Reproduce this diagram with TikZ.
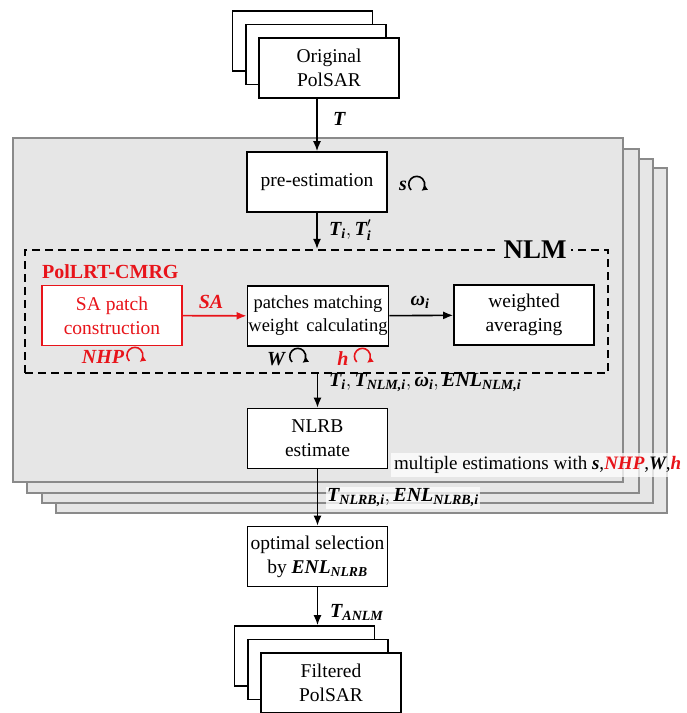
\RequirePackage{fix-cm}
\documentclass[tikz,border=0pt]{standalone}
\usepackage{fontspec}
\setmainfont{Liberation Serif}
\usepackage{amsmath}
\usetikzlibrary{arrows.meta,positioning,calc}

\definecolor{nred}{RGB}{232,20,26}
\definecolor{panelfill}{RGB}{230,230,230}
\definecolor{panelline}{RGB}{138,138,138}

% bold italic symbols
\newcommand\bi[1]{\text{\bfseries\itshape #1}}

\tikzset{
  procbox/.style={draw, line width=1.6pt, fill=white, minimum width=140pt, minimum height=60pt,
    align=center, inner sep=1pt, font=\fontsize{19.5}{24}\selectfont},
  redbox/.style={procbox, draw=nred, text=nred},
  flow/.style={line width=1.6pt, -{Latex[length=10pt,width=8pt]}},
  loopar/.style={line width=1.6pt, -{Latex[length=6pt,width=6pt]}},
  lbl/.style={font=\fontsize{20}{24}\selectfont, inner sep=1pt},
  panel/.style={draw=panelline, fill=panelfill, line width=2pt},
  nlmbox/.style={draw, dash pattern=on 8pt off 5pt, line width=2.2pt,
    minimum width=583pt, minimum height=123pt},
  veil/.style={fill=white, fill opacity=0.75, text opacity=1}
}

\begin{document}
\begin{tikzpicture}[x=1pt,y=-1pt]
\useasboundingbox (0,0) rectangle (687,713);

% stacked panels, back to front
\foreach \xa/\ya/\xb/\yb in {56/168/667/513, 42/159/653/503, 27/149/639/493, 13/138/623/482}
  \draw[panel] (\xa,\ya) rectangle (\xb,\yb);

% input images
\foreach \k in {2,1}
  \node[procbox] (orig\k) at ({329-13.3*\k},{68-13.5*\k}) {};
\node[procbox] (orig) at (329,68) {Original\\PolSAR};

\node[procbox] (pre) at (317,182) {pre-estimation};
\node[lbl] (sl) at (403,186) {$\bi{s}$};
\draw[loopar] (sl.east) ++(3,4) arc[start angle=225, end angle=-55, radius=8pt];

% NLM block
\node[nlmbox] (nlm) at (316.5,311.5) {};
\node[font=\bfseries\fontsize{27}{30}\selectfont, fill=panelfill, inner xsep=5pt, inner ysep=1pt] (nlmtitle) at (535,250) {NLM};

\node[font=\bfseries\fontsize{20}{24}\selectfont, text=nred, anchor=west, inner sep=0pt] (cmrg) at (42,272) {PolLRT-CMRG};
\node[redbox] (sa) at (112,315.5) {SA patch\\construction};
\node[procbox, font=\fontsize{18.5}{23}\selectfont] (match) at (318,316) {patches matching\\weight\, calculating};
\node[procbox] (avg) at (524,315) {weighted\\averaging};

\node[lbl, text=nred] (nhp) at (103,357) {$\bi{NHP}$};
\draw[loopar, nred] (nhp.east) ++(4,4) arc[start angle=225, end angle=-55, radius=8pt];
\node[lbl] (wl) at (276,359) {$\bi{W}$};
\draw[loopar] (wl.east) ++(6,3) arc[start angle=225, end angle=-55, radius=8pt];
\node[lbl, text=nred] (hl) at (343,359) {$\bi{h}$};
\draw[loopar, nred] (hl.east) ++(7,3) arc[start angle=225, end angle=-55, radius=8pt];

\node[procbox] (nlrb) at (317.5,438.5) {NLRB\\estimate};
\node[procbox] (opt) at (317.5,556.5) {optimal selection\\by $\bi{ENL}_{\bi{NLRB}}$};

% output images
\foreach \k in {2,1}
  \node[procbox] (fil\k) at ({331-13.3*\k},{683-13.5*\k}) {};
\node[procbox] (fil) at (331,683) {Filtered\\PolSAR};

% connectors
\draw[flow] (pre |- orig.south) -- (pre);
\draw[flow] (pre) -- (pre |- nlm.north);
\draw[flow, nred] (sa) -- (match);
\draw[flow] (match) -- (avg);
\draw[flow] (nlrb |- nlm.south) -- (nlrb);
\draw[flow] (nlrb) -- (opt);
\draw[flow] (opt) -- (opt |- fil2.north);

% labels
\node[lbl, anchor=west] (tl) at (332,119) {$\bi{T}$};
\node[lbl, anchor=west] (til) at (328,230) {$\bi{T}_{\bi{i}}, \bi{T}'_{\bi{i}}$};
\node[lbl, text=nred] (sal) at (211,302) {$\bi{SA}$};
\node[lbl] (wil) at (420,302) {$\bi{ω}_{\bi{i}}$};
\node[lbl, anchor=west] (tnlm) at (328,383) {$\bi{T}_{\bi{i}}, \bi{T}_{\bi{NLM,i}}, \bi{ω}_{\bi{i}}, \bi{ENL}_{\bi{NLM,i}}$};
\node[lbl, veil, anchor=west, inner xsep=3pt, inner ysep=3pt, font=\fontsize{19}{23}\selectfont] (multi) at (391,465)
  {multiple estimations with \bi{s},\textcolor{nred}{\bi{NHP}},\bi{W},\textcolor{nred}{\bi{h}}};
\node[lbl, veil, anchor=west, inner ysep=2pt] (tnlrb) at (326,498) {$\bi{T}_{\bi{NLRB,i}}, \bi{ENL}_{\bi{NLRB,i}}$};
\node[lbl, anchor=west] (tanlm) at (329,612) {$\bi{T}_{\bi{ANLM}}$};
\end{tikzpicture}
\end{document}
